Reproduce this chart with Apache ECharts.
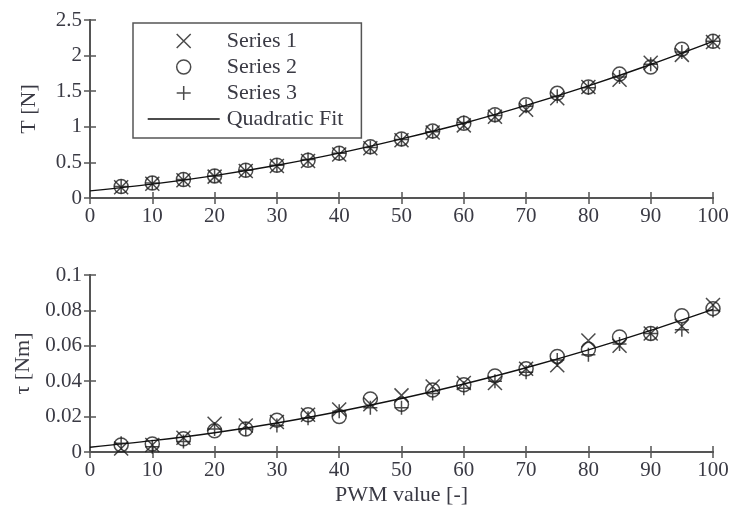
<!DOCTYPE html>
<html>
<head>
<meta charset="utf-8">
<script src="https://cdn.jsdelivr.net/npm/echarts@6/dist/echarts.min.js"></script>
<style>html,body{margin:0;padding:0;background:#fff}#c{width:732px;height:514px}</style>
</head>
<body>
<div id="c"></div>
<script>
// ---- data ----
const pwm = [5,10,15,20,25,30,35,40,45,50,55,60,65,70,75,80,85,90,95,100];
const thrust1 = [0.15,0.20,0.25,0.30,0.38,0.45,0.52,0.61,0.70,0.81,0.92,1.02,1.14,1.24,1.40,1.56,1.66,1.90,2.01,2.19];
const thrust2 = [0.16,0.21,0.26,0.31,0.39,0.46,0.53,0.63,0.72,0.83,0.94,1.05,1.17,1.31,1.47,1.56,1.74,1.84,2.09,2.20];
const thrust3 = [0.16,0.21,0.26,0.31,0.39,0.46,0.54,0.63,0.71,0.82,0.93,1.06,1.16,1.29,1.43,1.55,1.70,1.88,2.05,2.20];
const fitX = [0,10,20,30,40,50,60,70,80,90,100];
const thrustFit = [0.10,0.195,0.315,0.46,0.63,0.83,1.05,1.30,1.575,1.875,2.20];
const torque1 = [0.002,0.004,0.008,0.016,0.015,0.017,0.021,0.024,0.027,0.032,0.037,0.039,0.039,0.047,0.049,0.063,0.060,0.067,0.071,0.083];
const torque2 = [0.004,0.0045,0.0075,0.012,0.013,0.018,0.021,0.020,0.030,0.027,0.035,0.038,0.043,0.047,0.054,0.058,0.065,0.067,0.077,0.081];
const torque3 = [0.005,0.003,0.006,0.013,0.013,0.015,0.019,0.023,0.025,0.025,0.033,0.036,0.040,0.045,0.052,0.055,0.061,0.067,0.069,0.080];
const torqueFit = [0.0027,0.0064,0.0109,0.0164,0.0229,0.0302,0.0384,0.0476,0.0577,0.0687,0.0806];
const seriesNames = ['Series 1','Series 2','Series 3','Quadratic Fit'];
const xTicks = {min:0, max:100, interval:10};
const tTicks = {min:0, max:2.5, interval:0.5};
const tauTicks = {min:0, max:0.1, interval:0.02};

// ---- style ----
const FONT = 'Liberation Serif';
const TXT = '#3a3a44';
const AX = '#555';
const MK = '#1e1e1e';
const symX = 'path://M0,0L10,10M10,0L0,10';
const symPlus = 'path://M5,0L5,10M0,5L10,5';
const mkStyle = {color:'transparent', borderColor:MK, borderWidth:1.5};

function pairs(xs, ys){ return xs.map((x,i)=>[x, ys[i]]); }

function xAx(grid, pos, showLabel, name){
  return {
    type:'value', gridIndex:grid, position:pos, min:xTicks.min, max:xTicks.max, interval:xTicks.interval,
    axisLine:{show:true, lineStyle:{color:AX, width:2}},
    axisTick:{show:true, inside:true, length:6, lineStyle:{color:AX, width:1.5}},
    axisLabel:{show:showLabel, color:TXT, fontFamily:FONT, fontSize:21, margin:8},
    splitLine:{show:false},
    name: name || '', nameLocation:'middle', nameGap:32,
    nameTextStyle:{color:TXT, fontFamily:FONT, fontSize:22}
  };
}
function yAx(grid, pos, ticks, showLabel, name){
  return {
    type:'value', gridIndex:grid, position:pos, min:ticks.min, max:ticks.max, interval:ticks.interval,
    axisLine:{show:true, lineStyle:{color:AX, width:2}},
    axisTick:{show:true, inside:true, length:6, lineStyle:{color:AX, width:1.5}},
    axisLabel:{show:showLabel, color:TXT, fontFamily:FONT, fontSize:21, margin:8},
    splitLine:{show:false},
    name: name || '', nameLocation:'middle', nameGap:50,
    nameTextStyle:{color:TXT, fontFamily:FONT, fontSize:22}
  };
}
function scat(name, xi, yi, data, sym){
  return {name, type:'scatter', xAxisIndex:xi, yAxisIndex:yi, data, symbol:sym, symbolSize:14,
          symbolKeepAspect:true, itemStyle:mkStyle, z:3};
}
function fit(xi, yi, data){
  return {name:'Quadratic Fit', type:'line', xAxisIndex:xi, yAxisIndex:yi, data, smooth:0.3,
          showSymbol:false, symbol:'none', itemStyle:{color:'#111'}, lineStyle:{color:'#111', width:1.4}, z:4};
}

const chart = echarts.init(document.getElementById('c'), null, {renderer:'canvas'});
chart.setOption({
  animation:false,
  backgroundColor:'#fff',
  grid:[
    {left:90, top:20, width:623, height:178},
    {left:90, top:275, width:623, height:177}
  ],
  xAxis:[ xAx(0,'bottom',true), xAx(0,'top',false), xAx(1,'bottom',true,'PWM value [-]'), xAx(1,'top',false) ],
  yAxis:[ yAx(0,'left',tTicks,true,'T [N]'), yAx(0,'right',tTicks,false), yAx(1,'left',tauTicks,true,'τ [Nm]'), yAx(1,'right',tauTicks,false) ],
  legend:{
    orient:'vertical', left:133, top:23,
    padding:[7,18,8,14], itemGap:4, itemWidth:72, itemHeight:14,
    borderColor:'#555', borderWidth:1.5, backgroundColor:'#fff',
    textStyle:{color:TXT, fontFamily:FONT, fontSize:22, padding:[0,0,0,2]},
    data:[
      {name:seriesNames[0], icon:symX, itemStyle:mkStyle},
      {name:seriesNames[1], icon:'circle', itemStyle:mkStyle},
      {name:seriesNames[2], icon:symPlus, itemStyle:mkStyle},
      {name:seriesNames[3], itemStyle:{opacity:0}, lineStyle:{color:'#111', width:1.4}}
    ],
    selectedMode:false
  },
  series:[
    scat(seriesNames[0],0,0,pairs(pwm,thrust1),symX),
    scat(seriesNames[1],0,0,pairs(pwm,thrust2),'circle'),
    scat(seriesNames[2],0,0,pairs(pwm,thrust3),symPlus),
    fit(0,0,pairs(fitX,thrustFit)),
    scat(seriesNames[0],2,2,pairs(pwm,torque1),symX),
    scat(seriesNames[1],2,2,pairs(pwm,torque2),'circle'),
    scat(seriesNames[2],2,2,pairs(pwm,torque3),symPlus),
    fit(2,2,pairs(fitX,torqueFit))
  ]
});
</script>
</body>
</html>
